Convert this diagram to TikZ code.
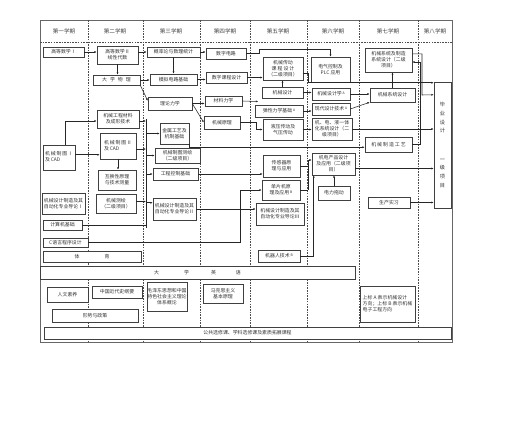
\documentclass[tikz,border=0pt]{standalone}
\usepackage{fontspec}
\setmainfont{Noto Sans CJK SC}
\usetikzlibrary{arrows.meta,calc,shadows}
\newcommand\mybox[6]{\node[box,minimum width={(#4-#2)*1pt},minimum height={(#5-#3)*1pt}] (#1) at ({(#2+#4)/2},{(#3+#5)/2}) {#6};}
\newcommand\supmark[1]{\raisebox{1.6pt}{\fontsize{3.4}{3.4}\selectfont #1}}
\begin{document}
\begin{tikzpicture}[x=1pt,y=-1pt,
  box/.style={draw=black!75,line width=0.5pt,fill=white,inner sep=0.2pt,align=center,
    font=\fontsize{4.9}{6.1}\selectfont,text=black!80,
    drop shadow={shadow xshift=0.8pt,shadow yshift=-0.8pt,fill=black!65,opacity=1}},
  arr/.style={-{Latex[length=2.4pt,width=2pt]},line width=0.55pt,black!85},
  ln/.style={line width=0.55pt,black!85},
  sep/.style={black!70,line width=0.55pt,dash pattern=on 1.6pt off 1.1pt},
  hd/.style={font=\fontsize{5.6}{6.6}\selectfont,text=black!75}]
\useasboundingbox (0,0) rectangle (508,428);
% frame and separators
\draw[black!60,line width=0.5pt] (40,20) rectangle (452,342);
\draw[sep] (40,42) -- (452,42);
\foreach \x in {88,143,200,250,307,359,418} {\draw[sep] (\x,20) -- (\x,342);}
\node[hd] (h1) at (64,31) {第一学期};
\node[hd] (h2) at (115,31) {第二学期};
\node[hd] (h3) at (171,31) {第三学期};
\node[hd] (h4) at (225,31) {第四学期};
\node[hd] (h5) at (278,31) {第五学期};
\node[hd] (h6) at (333,31) {第六学期};
\node[hd] (h7) at (388,31) {第七学期};
\node[hd] (h8) at (435,31) {第八学期};
% column 1
\mybox{gs1}{43}{47}{84}{57}{高等数学Ⅰ}
\mybox{zt1}{43}{145}{75}{170}{\begin{tabular}{@{}l@{}}机\,械\,制\,图\,Ⅰ\\及\,CAD\end{tabular}}
\mybox{dl1}{42}{193}{85}{214}{机械设计制造及其\\自动化专业导论Ⅰ}
\mybox{jsj}{43}{220}{82}{230}{计算机基础}
\mybox{cyy}{43}{238}{88}{247}{C语言程序设计}
\mybox{ty}{43}{251}{141}{262}{体\hspace{25pt}育}
\mybox{yy}{40}{266}{355}{279}{大\hspace{25pt}学\hspace{22pt}英\hspace{20pt}语}
\mybox{rw}{47}{287}{88}{302}{人文素养}
\mybox{zgj}{92}{286}{142}{298}{中国近代史纲要}
\mybox{xs}{52}{309}{138}{322}{形势与政策}
\mybox{mao}{147}{282}{187}{311}{毛泽东思想和中国\\特色社会主义理论\\体系概论}
\mybox{mks}{203}{284}{243}{303}{马克思主义\\基本原理}
\mybox{note}{360}{286}{415}{322}{\begin{tabular}{@{}l@{}}上标 A 表示机械设计\\方向；上标 B 表示机械\\电子工程方向\end{tabular}}
\mybox{gx}{44}{327}{451}{339}{公共选修课、学科选修课及素质拓展课程}
% column 2
\mybox{gs2}{97}{46}{138}{64}{高等数学Ⅱ\\线性代数}
\mybox{wl}{93}{75}{140}{85}{大\hspace{3pt}学\hspace{3pt}物\hspace{3pt}理}
\mybox{clx}{97}{110}{139}{128}{机械工程材料\\及成形技术}
\mybox{zt2}{100}{133}{136}{159}{\begin{tabular}{@{}l@{}}机\,械\,制\,图\,Ⅱ\\及\,CAD\end{tabular}}
\mybox{hhx}{98}{170}{136}{190}{互换性原理\\与技术测量}
\mybox{ch}{96}{194}{136}{213}{机械测绘\\（二级项目）}
% column 3
\mybox{gl}{147}{47}{200}{57}{概率论与数理统计}
\mybox{mn}{150}{74}{197}{85}{模拟电路基础}
\mybox{ll}{148}{97}{192}{110}{理论力学}
\mybox{jsgy}{160}{123}{189}{144}{金属工艺及\\机制基础}
\mybox{zt3}{155}{148}{200}{163}{机械制图测绘\\（二级项目）}
\mybox{gk}{153}{168}{198}{180}{工程控制基础}
\mybox{dl2}{153}{198}{196}{220}{机械设计制造及其\\自动化专业导论Ⅱ}
% column 4
\mybox{sz}{206}{48}{246}{59}{数字电路}
\mybox{szkc}{206}{72}{247}{83}{数字课程设计}
\mybox{cl}{205}{96}{242}{106}{材料力学}
\mybox{yl}{204}{116}{240}{129}{机械原理}
% column 5
\mybox{cd}{263}{57}{303}{80}{机械传动\\课\hspace{1pt}程\hspace{1pt}设\hspace{1pt}计\\（二级项目）}
\mybox{sj}{262}{87}{303}{98}{机械设计}
\mybox{tx}{255}{105}{303}{117}{弹性力学基础\,\supmark{A}}
\mybox{yy2}{263}{119}{303}{140}{液压传动及\\气压传动}
\mybox{cgq}{263}{155}{300}{177}{传感器原\\理与应用}
\mybox{dpj}{262}{180}{300}{200}{单片机原\\理及应用\,\supmark{B}}
\mybox{dl3}{256}{203}{304}{225}{机械设计制造及其\\自动化专业导论Ⅲ}
\mybox{jqr}{258}{250}{300}{262}{机器人技术\,\supmark{B}}
% column 6
\mybox{plc}{311}{57}{350}{82}{电气控制及\\PLC 应用}
\mybox{sjx}{312}{88}{350}{100}{机械设计学\,\supmark{A}}
\mybox{xd}{312}{103}{350}{115}{现代设计技术\,\supmark{A}}
\mybox{jdy}{312}{118}{352}{140}{机、电、液一体\\化系统设计（二\\级项目）}
\mybox{jdcp}{312}{153}{355}{175}{机电产品设计\\及应用（二级项\\目）}
\mybox{dltd}{318}{186}{350}{200}{电力拖动}
% column 7
\mybox{xtzz}{365}{48}{412}{72}{机械系统及制造\\系统设计（二级\\项目）}
\mybox{xtsj}{370}{88}{415}{102}{机械系统设计}
\mybox{zzgy}{365}{137}{412}{152}{机\hspace{1pt}械\hspace{1pt}制\hspace{1pt}造\hspace{1pt}工\hspace{1pt}艺}
\mybox{scsx}{368}{197}{410}{208}{生产实习}
% column 8
\node[box,minimum width=17pt,minimum height=126pt,font=\fontsize{5.2}{8.6}\selectfont] (bs) at (442.5,145) {毕\\业\\设\\计\\[20pt]一\\级\\项\\目};
% ---------------- connectors
\draw[arr] (gs1.east) -- (gs1.east -| gs2.west);
\draw[arr] (gs2.south) -- (gs2.south |- wl.north);
\draw[arr] (gl.west -| gs2.east) -- (gl.west);
\draw[arr] (gl.south) -- (mn.north);
\draw[arr] (gl.east) -- (gl.east -| sz.west);
\draw[arr] (wl.east) -- (wl.east -| mn.west);
\draw[arr] (wl.south east) -- ($(ll.north west)!0.3!(ll.south west)$);
\draw[arr] (mn.east) -- (mn.east -| szkc.west);
\draw[arr] (ll.east) -- (ll.east -| cl.west);
\draw[arr] ($(ll.north east)!0.5!(ll.south east)$) -- (yl.west);
% to PLC
\coordinate (p1) at (259,49);
\draw[arr] (sz.east) -| (p1) -| (plc.north);
\draw[ln] (szkc.east) -- (p1 |- szkc.east);
\draw[arr] (p1 |- szkc.east) -- (szkc.east -| cd.west);
% column 4 -> 5
\draw[arr] (cl.east) -- ($(sj.south west)!0.5!(tx.north west)$);
\draw[arr] (yl.east) -- (256,122.5) |- (yy2.west);
\draw[arr] (sj.north) -- (sj.north |- cd.south);
% column 5 -> 6
\draw[arr] (sj.east) -- (sj.east -| sjx.west);
\draw[arr] (tx.east) -- (tx.east -| xd.west);
\draw[arr] (yy2.east) -- (yy2.east -| jdy.west);
\coordinate (b5t) at (308,160);
\draw[ln] (cgq.east) -- (cgq.east -| b5t);
\draw[ln] (dpj.east) -- (dpj.east -| b5t);
\draw[ln] (b5t) -- (b5t |- dpj.east);
\draw[arr] (b5t) -- (b5t -| jdcp.west);
\draw[arr] (jqr.east) -| ($(jdcp.south west)+(2,0)$);
\draw[arr] (dltd.north) -- (dltd.north |- jdcp.south);
% column 6 -> 7
\draw[arr] (sjx.east) -- (sjx.east -| xtsj.west);
\draw[arr] (xd.east) -- (xtsj.south west);
\draw[arr] (xtsj.north) -- (xtsj.north |- xtzz.south);
% to graduation design
\coordinate (cdo) at ($(cd.north east)!0.7!(cd.south east)$);
\coordinate (bs1) at ($(bs.north west)+(0,1)$);
\draw[arr] (cdo) -- ++(5,0) |- (bs1);
\coordinate (xto) at ($(xtzz.north east)!0.25!(xtzz.south east)$);
\coordinate (bs2) at ($(bs.north west)+(0,13)$);
\draw[arr] (xto) -| (422,95) -- (bs2);
\coordinate (xti) at ($(xtzz.east)+(0,2)$);
\draw[arr] (zzgy.east) -| (420,62) -- (xti);
\draw[arr] (jdy.east) -- (jdy.east -| bs.west);
\coordinate (jq) at ($(jdcp.north east)!0.7!(jdcp.south east)$);
\draw[arr] (jq) -- (jq -| bs.west);
\draw[arr] (scsx.east) -- (scsx.east -| bs.west);
% column 1/2
\draw[arr] ($(zt1.north)+(6,0)$) |- ($(clx.west)+(0,2)$);
\coordinate (z1o) at ($(zt1.north east)+(0,10)$);
\draw[arr] (z1o) -- (z1o -| zt2.west);
\draw[arr] (zt2.south) -- (zt2.south |- hhx.north);
% bus between column 2 and 3
\coordinate (bt) at (146,119);
\coordinate (bb) at (146,228);
\draw[ln] (bt) -- (bb);
\draw[arr] ($(clx.east)+(0,2)$) -- ($(clx.east -| bt)+(0,2)$);
\coordinate (z2o) at ($(zt2.east)+(0,3)$);
\draw[arr] (z2o) -- (z2o -| bt);
\draw[arr] ($(ch.east)+(0,-2)$) -- ($(ch.east -| bt)+(0,-2)$);
\draw[ln] (jsj.east) -- (jsj.east -| bb) -- (bb);
\draw[arr] (bt |- jsgy.west) -- (jsgy.west);
\draw[arr] (zt3.west -| bt) -- (zt3.west);
\draw[arr] (gk.west -| bt) -- (gk.west);
\coordinate (d2i) at ($(dl2.north west)+(0,5)$);
\draw[arr] (d2i -| bt) -- (d2i);
% column 3 onward
\coordinate (js) at ($(jsgy.south east)+(11,3)$);
\draw[ln] (jsgy.south east) |- (js);
\draw[arr] (js) -- (js -| zzgy.west);
\draw[arr] (gk.east) -- (gk.east -| cgq.west);
\draw[arr] (cyy.east) -| (240,190) -- (dpj.west);
\draw[arr] (dl2.east) -- (dl2.east -| dl3.west);
\end{tikzpicture}
\end{document}
